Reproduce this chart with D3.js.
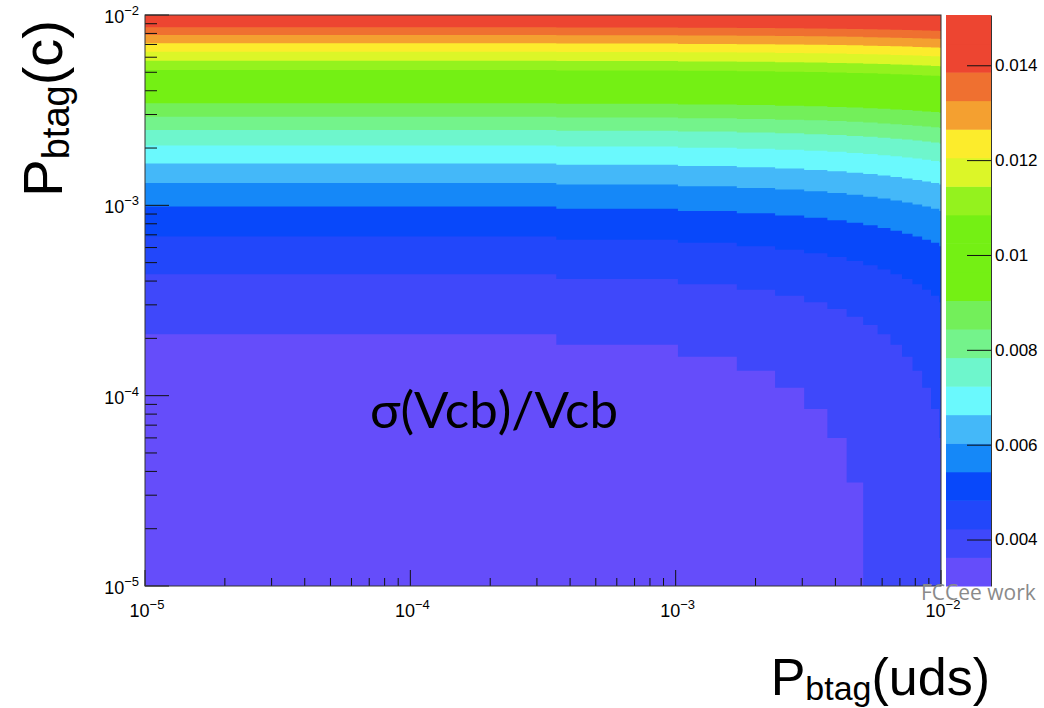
<!DOCTYPE html>
<html>
<head>
<meta charset="utf-8">
<script src="https://cdn.jsdelivr.net/npm/d3@7"></script>
<style>
  body { margin: 0; background: #fff; }
  svg { display: block; }
</style>
</head>
<body>
<div class="chart-wrapper"></div>
<script>
// x bin edges, P_btag(uds)
const xEdges = [1e-5, 3.55e-4, 1.02e-3, 1.70e-3, 2.37e-3, 3.05e-3, 3.73e-3, 4.41e-3, 5.09e-3,
  5.77e-3, 6.45e-3, 7.13e-3, 7.81e-3, 8.49e-3, 9.17e-3, 9.85e-3, 1e-2]

// how far every contour has dropped in each x bin (one y bin = 2.5e-5 per column)
const colShift = [0, 2.5e-5, 5.0e-5, 7.5e-5, 1.0e-4, 1.25e-4, 1.5e-4, 1.75e-4, 2.0e-4,
  2.25e-4, 2.5e-4, 2.75e-4, 3.0e-4, 3.25e-4, 3.5e-4, 3.75e-4]

// P_btag(c) where contour 1..19 is crossed in the first x bin
// null = not visible (same colour on both sides)
const levelY0 = [2.10e-4, 4.35e-4, 6.85e-4, 9.85e-4, 1.31e-3, 1.66e-3, 2.06e-3, 2.49e-3, 2.92e-3,
  3.44e-3, null, null, 5.14e-3, 5.75e-3, 6.42e-3, 7.10e-3, 7.85e-3, 8.62e-3, null]

// palette, one colour per contour band, bottom to top
const levelColors = ['#654DFA', '#3F48FA', '#2247FA', '#0848FA', '#1588F8', '#44B8F9', '#6AF9FD',
  '#6EF6CC', '#74F38B', '#73EF5A', '#74F014', '#74F014', '#74F014', '#94F21E', '#DCF628',
  '#FCEC2C', '#F4A030', '#EF7030', '#ED4531', '#ED4531']

const zRange = [0.00302, 0.01506]
const zTicks = [0.004, 0.006, 0.008, 0.01, 0.012, 0.014]
const zTickLabels = ['0.004', '0.006', '0.008', '0.01', '0.012', '0.014']

const xMajor = [1e-5, 1e-4, 1e-3, 1e-2]
const xMajorLabels = ['-5', '-4', '-3', '-2']
const yMajor = [1e-5, 1e-4, 1e-3, 1e-2]
const yMajorLabels = ['-5', '-4', '-3', '-2']

const width = 1044
const height = 708
const plot = {left: 145, right: 941, top: 15, bottom: 586}
const bar = {left: 946, right: 991}
const helv = 'Liberation Sans, Arial, Helvetica, sans-serif'

let svg = d3.select('.chart-wrapper').append('svg')
  .attr('width', width)
  .attr('height', height)

let x = d3.scaleLog().domain([1e-5, 1e-2]).range([plot.left, plot.right])
let y = d3.scaleLog().domain([1e-5, 1e-2]).range([plot.bottom, plot.top])

svg.append('clipPath').attr('id', 'frame')
  .append('rect')
  .attr('x', plot.left).attr('y', plot.top)
  .attr('width', plot.right - plot.left).attr('height', plot.bottom - plot.top)

let map = svg.append('g').attr('clip-path', 'url(#frame)')

// top band fills everything, lower bands painted over it
map.append('rect')
  .attr('x', plot.left).attr('y', plot.top)
  .attr('width', plot.right - plot.left).attr('height', plot.bottom - plot.top)
  .attr('fill', levelColors[levelColors.length - 1])

let cols = xEdges.map((e, j) => ({x: e, s: colShift[Math.min(j, colShift.length - 1)]}))

for (let k = levelY0.length - 1; k >= 0; k--) {
  if (levelY0[k] === null) continue
  let area = d3.area()
    .x(d => x(d.x))
    .y0(plot.bottom)
    .y1(d => y(Math.max(levelY0[k] - d.s, 1e-5)))
    .curve(d3.curveStepAfter)
  map.append('path')
    .datum(cols)
    .attr('d', area)
    .attr('fill', levelColors[k])
}

// ticks (inside the frame)
const minorOf = dec => d3.range(2, 10).map(m => m * dec).filter(v => v < 1e-2)
let xMinor = [1e-5, 1e-4, 1e-3].flatMap(minorOf)
let yMinor = xMinor

let axes = svg.append('g').attr('stroke', '#111').attr('stroke-width', 1)

axes.selectAll('.xmaj').data(xMajor).enter().append('line')
  .attr('x1', d => x(d)).attr('x2', d => x(d))
  .attr('y1', plot.bottom).attr('y2', plot.bottom - 16)
axes.selectAll('.xmin').data(xMinor).enter().append('line')
  .attr('x1', d => x(d)).attr('x2', d => x(d))
  .attr('y1', plot.bottom).attr('y2', plot.bottom - 8)
axes.selectAll('.ymaj').data(yMajor).enter().append('line')
  .attr('y1', d => y(d)).attr('y2', d => y(d))
  .attr('x1', plot.left).attr('x2', plot.left + 24)
axes.selectAll('.ymin').data(yMinor).enter().append('line')
  .attr('y1', d => y(d)).attr('y2', d => y(d))
  .attr('x1', plot.left).attr('x2', plot.left + 12)

svg.append('rect')
  .attr('x', plot.left).attr('y', plot.top)
  .attr('width', plot.right - plot.left).attr('height', plot.bottom - plot.top)
  .attr('fill', 'none').attr('stroke', '#333').attr('stroke-width', 1)

// tick labels 10^n
let xl = svg.selectAll('.xlab').data(xMajor).enter().append('text')
  .attr('x', d => x(d) + 2).attr('y', 617)
  .attr('text-anchor', 'middle')
  .style('font-family', helv).style('font-size', '18px')
xl.append('tspan').text('10')
xl.append('tspan').attr('dy', -8).style('font-size', '13px').text((d, i) => '\u2212' + xMajorLabels[i].slice(1))

let yl = svg.selectAll('.ylab').data(yMajor).enter().append('text')
  .attr('x', 139).attr('y', d => y(d) + 8)
  .attr('text-anchor', 'end')
  .style('font-family', helv).style('font-size', '18px')
yl.append('tspan').text('10')
yl.append('tspan').attr('dy', -8).style('font-size', '13px').text((d, i) => '\u2212' + yMajorLabels[i].slice(1))

// colour bar
let z = d3.scaleLinear().domain(zRange).range([plot.bottom, plot.top])
let zStep = (zRange[1] - zRange[0]) / levelColors.length
svg.append('g').selectAll('rect')
  .data(levelColors).enter().append('rect')
  .attr('x', bar.left)
  .attr('width', bar.right - bar.left)
  .attr('y', (d, i) => z(zRange[0] + (i + 1) * zStep))
  .attr('height', (d, i) => z(zRange[0] + i * zStep) - z(zRange[0] + (i + 1) * zStep) + 0.5)
  .attr('fill', d => d)

let zAxis = svg.append('g')
  .attr('transform', `translate(${bar.right}, 0)`)
  .call(d3.axisRight(z).tickValues(zTicks).tickSizeInner(-24).tickSizeOuter(0).tickPadding(4)
    .tickFormat((d, i) => zTickLabels[i]))
zAxis.select('.domain').attr('stroke', '#333')
zAxis.selectAll('.tick line').attr('stroke', '#111')
zAxis.selectAll('text')
  .style('font-family', helv).style('font-size', '17px').attr('fill', '#000')

// titles
let xt = svg.append('text')
  .attr('x', 990).attr('y', 695)
  .attr('text-anchor', 'end')
  .style('font-family', helv).style('font-size', '52px')
xt.append('tspan').text('P')
xt.append('tspan').attr('dy', 5).style('font-size', '34px').text('btag')
xt.append('tspan').attr('dy', -5).text('(uds)')

let yt = svg.append('text')
  .attr('transform', 'translate(62, 20) rotate(-90)')
  .attr('text-anchor', 'end')
  .style('font-family', helv).style('font-size', '56px')
yt.append('tspan').text('P')
yt.append('tspan').attr('dy', 7).style('font-size', '38px').text('btag')
yt.append('tspan').attr('dy', -7).text('(c)')

svg.append('text')
  .attr('x', 494).attr('y', 428)
  .attr('text-anchor', 'middle')
  .style('font-family', 'Lato, sans-serif').style('font-size', '51px')
  .text('\u03c3(Vcb)/Vcb')

svg.append('text')
  .attr('x', 921).attr('y', 600)
  .style('font-family', 'Open Sans, sans-serif').style('font-size', '21px')
  .attr('fill', '#8a8a8a')
  .text('FCCee work')
</script>
</body>
</html>
